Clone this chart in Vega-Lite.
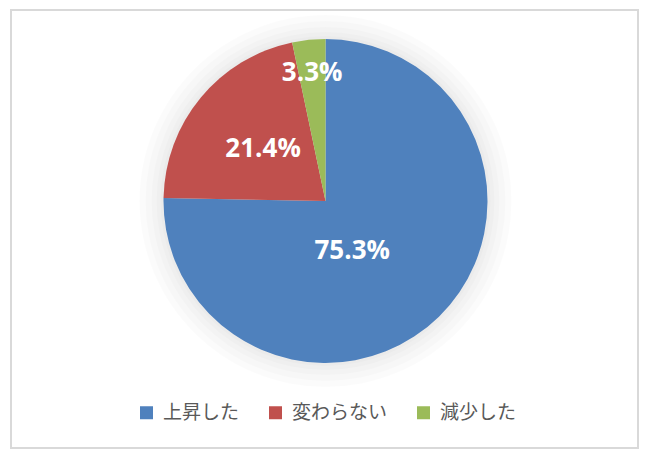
{
  "$schema": "https://vega.github.io/schema/vega-lite/v6.json",
  "autosize": {"type": "fit", "contains": "padding"},
  "width": 650,
  "height": 468,
  "padding": {"left": 11, "top": 10, "right": 12, "bottom": 20},
  "background": "white",
  "view": {"stroke": "#d9d9d9", "strokeWidth": 2},
  "config": {
    "legend": {
      "labelFont": "Noto Sans CJK JP",
      "labelFontSize": 19,
      "labelColor": "#595959",
      "symbolType": "square",
      "symbolSize": 169,
      "symbolStrokeWidth": 0,
      "labelOffset": 7,
      "columnPadding": 26,
      "padding": 0
    }
  },
  "data": {
    "values": [
      {"cat": "上昇した", "share": 0.753},
      {"cat": "変わらない", "share": 0.214},
      {"cat": "減少した", "share": 0.033}
    ]
  },
  "layer": [
    {
      "data": {"values": [{"r": 165}, {"r": 169}, {"r": 174}, {"r": 180}, {"r": 186}]},
      "mark": {
        "type": "arc",
        "theta": 0,
        "theta2": 6.2832,
        "radius": {"expr": "datum.r"},
        "fill": "#000000",
        "fillOpacity": 0.016,
        "y": {"expr": "height/2 - 28"},
        "x": {"expr": "width/2 + 1"}
      },
      "encoding": {}
    },
    {
      "mark": {
        "type": "arc",
        "radius": 162,
        "y": {"expr": "height/2 - 28"},
        "x": {"expr": "width/2 + 1"}
      },
      "encoding": {
        "theta": {"field": "share", "type": "quantitative", "stack": true},
        "order": {"field": "share", "sort": "descending"},
        "color": {
          "field": "cat",
          "type": "nominal",
          "sort": ["上昇した", "変わらない", "減少した"],
          "scale": {
            "domain": ["上昇した", "変わらない", "減少した"],
            "range": ["#4F81BD", "#C0504D", "#9BBB59"]
          },
          "legend": {
            "title": null,
            "orient": "none",
            "direction": "horizontal",
            "columns": 3,
            "legendX": 126,
            "legendY": 393
          }
        }
      }
    },
    {
      "mark": {
        "type": "text",
        "font": "Open Sans",
        "fontWeight": "bold",
        "fontSize": 26,
        "fill": "white",
        "align": "center",
        "baseline": "middle",
        "y": {"expr": "height/2 - 28"},
        "x": {"expr": "width/2 + 1"},
        "radius": {"expr": "datum.share > 0.5 ? 61 : datum.share > 0.1 ? 81 : 129"},
        "dx": {"expr": "datum.share > 0.5 ? -16 : 0"},
        "dy": {"expr": "datum.share > 0.5 ? 6 : 0"}
      },
      "encoding": {
        "theta": {"field": "share", "type": "quantitative", "stack": true},
        "order": {"field": "share", "sort": "descending"},
        "text": {"field": "share", "type": "quantitative", "format": ".1%"}
      }
    }
  ]
}
